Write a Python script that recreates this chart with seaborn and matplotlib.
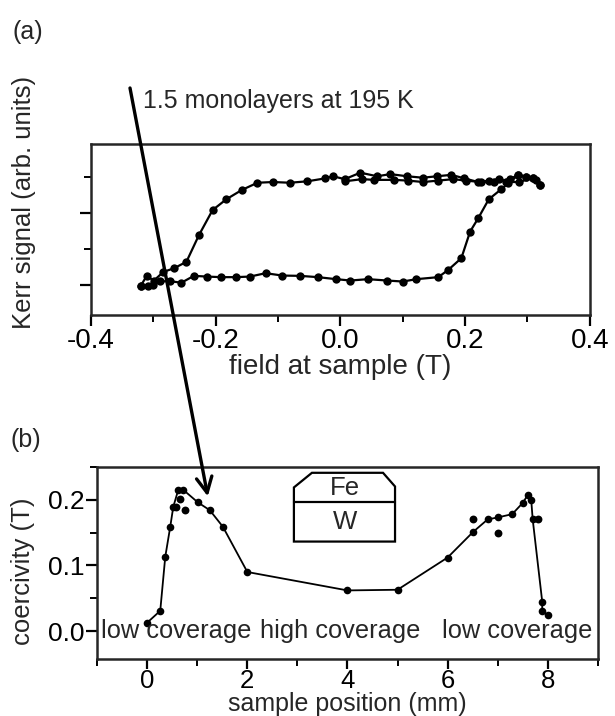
import matplotlib
matplotlib.use("Agg")
import matplotlib.pyplot as plt
from matplotlib.patches import Polygon
from matplotlib.ticker import MultipleLocator
import seaborn as sns

# (a) Kerr hysteresis loop, field in T, signal in arb. units
field_down = [0.320, 0.309, 0.287, 0.266, 0.255, 0.239, 0.221, 0.199, 0.178, 0.155,
              0.132, 0.107, 0.080, 0.059, 0.032, 0.007, -0.012, -0.025, -0.053, -0.081,
              -0.108, -0.133, -0.158, -0.183, -0.205, -0.227, -0.247, -0.267, -0.284,
              -0.299, -0.311, -0.320]
kerr_down = [1.39, 1.49, 1.43, 1.43, 1.47, 1.45, 1.43, 1.48, 1.53, 1.51,
             1.49, 1.51, 1.54, 1.51, 1.56, 1.47, 1.51, 1.48, 1.44, 1.42,
             1.43, 1.42, 1.32, 1.19, 1.04, 0.69, 0.32, 0.23, 0.18,
             0.06, 0.12, -0.01]

field_down2 = [0.314, 0.298, 0.285, 0.272, 0.246, 0.225, 0.201, 0.181, 0.157, 0.133,
               0.108, 0.086, 0.054, 0.035, 0.007]
kerr_down2 = [1.46, 1.50, 1.53, 1.47, 1.43, 1.43, 1.45, 1.47, 1.45, 1.43,
              1.45, 1.46, 1.46, 1.47, 1.44]

field_up = [-0.320, -0.308, -0.300, -0.289, -0.273, -0.255, -0.235, -0.214, -0.192,
            -0.168, -0.145, -0.120, -0.093, -0.065, -0.036, -0.007, 0.016, 0.044,
            0.075, 0.100, 0.122, 0.157, 0.173, 0.194, 0.208, 0.221, 0.238, 0.258,
            0.269, 0.285, 0.298, 0.309, 0.320]
kerr_up = [-0.01, -0.01, 0.0, 0.05, 0.05, 0.03, 0.125, 0.115, 0.107,
           0.107, 0.115, 0.162, 0.129, 0.125, 0.107, 0.079, 0.06, 0.079,
           0.06, 0.046, 0.079, 0.107, 0.208, 0.371, 0.74, 0.926, 1.19, 1.33,
           1.41, 1.53, 1.50, 1.48, 1.39]

# (b) coercivity along the sample
pos_line = [0.0, 0.26, 0.36, 0.46, 0.52, 0.62, 0.72, 1.01, 1.25, 1.51, 2.0, 4.0, 5.0,
            6.0, 6.51, 6.8, 7.0, 7.29, 7.5, 7.6, 7.67, 7.7, 7.89, 7.89, 8.0]
coer_line = [0.013, 0.031, 0.113, 0.159, 0.189, 0.215, 0.215, 0.196, 0.184, 0.159, 0.09,
             0.062, 0.063, 0.112, 0.151, 0.17, 0.173, 0.178, 0.195, 0.207, 0.2, 0.17,
             0.045, 0.031, 0.024]
pos_extra = [0.58, 0.66, 0.76, 6.51, 7.0, 7.81]
coer_extra = [0.189, 0.201, 0.184, 0.17, 0.149, 0.17]

region_labels = ["low coverage", "high coverage", "low coverage"]

sns.set_theme(style="ticks")
plt.rcParams["font.family"] = ["Liberation Sans", "DejaVu Sans"]
plt.rcParams["axes.unicode_minus"] = False
plt.rcParams["axes.linewidth"] = 1.8
for ax_name in ["xtick", "ytick"]:
    plt.rcParams[f"{ax_name}.major.width"] = 1.6
    plt.rcParams[f"{ax_name}.minor.width"] = 1.4
    plt.rcParams[f"{ax_name}.color"] = "black"

fig = plt.figure(figsize=(6.15, 7.16), dpi=100)
ax1 = fig.add_axes([0.148, 0.560, 0.811, 0.239])
ax2 = fig.add_axes([0.158, 0.079, 0.814, 0.269])

line_kw = dict(color="black", marker="o", markersize=6, linewidth=1.6,
               markeredgewidth=0, sort=False, estimator=None)
sns.lineplot(x=field_down, y=kerr_down, ax=ax1, **line_kw)
sns.lineplot(x=field_down2, y=kerr_down2, ax=ax1, **line_kw)
sns.lineplot(x=field_up, y=kerr_up, ax=ax1, **line_kw)

ax1.set_xlim(-0.4, 0.4)
ax1.set_ylim(-0.42, 1.96)
ax1.xaxis.set_major_locator(MultipleLocator(0.2))
ax1.xaxis.set_minor_locator(MultipleLocator(0.1))
ax1.yaxis.set_major_locator(MultipleLocator(1.0))
ax1.yaxis.set_minor_locator(MultipleLocator(0.5))
ax1.set_yticklabels([])
ax1.tick_params(axis="both", which="major", length=8, labelsize=20, pad=1)
ax1.tick_params(axis="both", which="minor", length=5)
ax1.set_xlabel("field at sample (T)", fontsize=20, labelpad=0)
ax1.set_ylabel("Kerr signal (arb. units)", fontsize=18.5)
ax1.yaxis.set_label_coords(-0.11, 0.66)

small_kw = dict(color="black", marker="o", markersize=5.5, linewidth=1.3,
                markeredgewidth=0, sort=False, estimator=None)
sns.lineplot(x=pos_line, y=coer_line, ax=ax2, **small_kw)
sns.scatterplot(x=pos_extra, y=coer_extra, ax=ax2, color="black", s=32,
                linewidth=0, zorder=3)

ax2.set_xlim(-1, 9)
ax2.set_ylim(-0.043, 0.25)
ax2.xaxis.set_major_locator(MultipleLocator(2))
ax2.xaxis.set_minor_locator(MultipleLocator(1))
ax2.yaxis.set_minor_locator(MultipleLocator(0.05))
ax2.set_yticks([0.0, 0.1, 0.2])
ax2.set_yticklabels(["0.0", "0.1", "0.2"])
ax2.tick_params(axis="both", which="major", length=8, labelsize=19, pad=1)
ax2.tick_params(axis="x", which="major", length=7, labelsize=18.5, pad=0)
ax2.tick_params(axis="both", which="minor", length=5)
ax2.set_xlabel("sample position (mm)", fontsize=18, labelpad=-1)
ax2.set_ylabel("coercivity (T)", fontsize=18.5)
ax2.yaxis.set_label_coords(-0.125, 0.46)

ax2.text(0.008, 0.15, region_labels[0], transform=ax2.transAxes, fontsize=18.3,
         va="center", ha="left")
ax2.text(0.485, 0.15, region_labels[1], transform=ax2.transAxes, fontsize=18.3,
         va="center", ha="center")
ax2.text(0.99, 0.15, region_labels[2], transform=ax2.transAxes, fontsize=18.3,
         va="center", ha="right")

# Fe on W sketch
box = Polygon([(0.393, 0.612), (0.393, 0.893), (0.429, 0.969), (0.571, 0.969),
               (0.595, 0.898), (0.595, 0.612)], closed=True, fill=False,
              edgecolor="black", linewidth=1.6, transform=ax2.transAxes)
ax2.add_patch(box)
ax2.plot([0.393, 0.595], [0.816, 0.816], color="black", linewidth=1.6,
         transform=ax2.transAxes)
ax2.text(0.495, 0.888, "Fe", transform=ax2.transAxes, fontsize=18.5,
         ha="center", va="center")
ax2.text(0.495, 0.714, "W", transform=ax2.transAxes, fontsize=18.5,
         ha="center", va="center")

ax2.annotate("", xy=(1.21, 0.205), xycoords="data",
             xytext=(130 / 615, 1 - 88 / 716), textcoords="figure fraction",
             arrowprops=dict(arrowstyle="->", lw=2.4, color="black",
                             shrinkA=0, shrinkB=0, mutation_scale=28),
             annotation_clip=False, zorder=10)
fig.text(143 / 615, 1 - 101 / 716, "1.5 monolayers at 195 K", fontsize=18,
         ha="left", va="center")

fig.text(13 / 615, 1 - 32 / 716, "(a)", fontsize=18, ha="left", va="center")
fig.text(10 / 615, 1 - 440 / 716, "(b)", fontsize=18, ha="left", va="center")

fig.savefig("out.png", dpi=100)
